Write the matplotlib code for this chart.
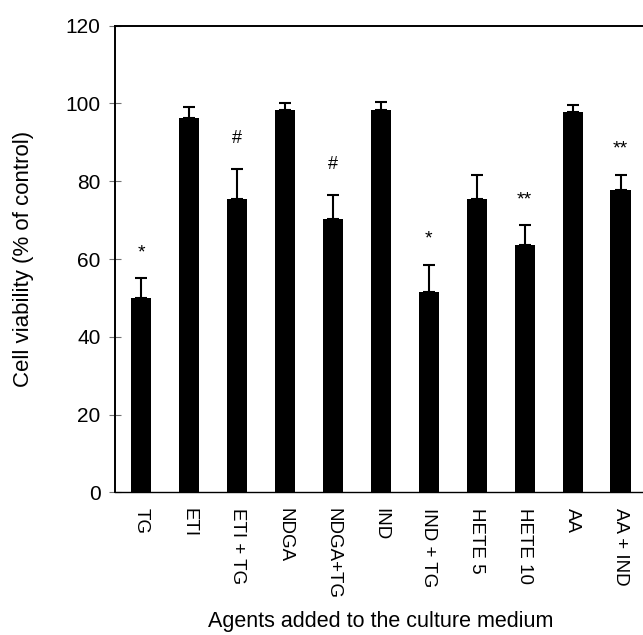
import numpy as np
import matplotlib
matplotlib.use('Agg')
import matplotlib.pyplot as plt

plt.rcParams['font.family'] = ['Liberation Sans', 'DejaVu Sans']

# data
agents = ['TG', 'ETI', 'ETI + TG', 'NDGA', 'NDGA+TG', 'IND', 'IND + TG',
          'HETE 5', 'HETE 10', 'AA', 'AA + IND']
viability = [50.1, 96.2, 75.4, 98.4, 70.4, 98.4, 51.6, 75.5, 63.6, 97.8, 77.8]
sem = [4.9, 3.0, 7.8, 1.8, 6.0, 2.1, 6.9, 6.0, 5.1, 1.8, 3.8]
marks = ['*', '', '#', '', '#', '', '*', '', '**', '', '**']

fig = plt.figure(figsize=(6.43, 6.35), dpi=100)
ax = fig.add_axes([0.1788, 0.2247, 0.8274, 0.7348])

x = np.arange(len(agents))
ax.bar(x, viability, width=0.424, color='black', zorder=2)
ax.errorbar(x, viability, yerr=[np.zeros(len(sem)), sem], fmt='none',
            ecolor='black', elinewidth=1.5, capsize=4, capthick=1.5, zorder=1)

# significance marks above the error bars
for i in range(len(agents)):
    if marks[i] == '#':
        ax.text(x[i], viability[i] + sem[i] + 7.8, marks[i], ha='center',
                va='center', fontsize=13)
    elif marks[i]:
        ax.text(x[i], viability[i] + sem[i] + 6.6, marks[i], ha='center',
                va='center', fontsize=14)

ax.set_xlim(-0.55, len(agents) - 0.45)
ax.set_ylim(0, 120)
ax.set_yticks(np.arange(0, 121, 20))
ax.set_xticks(x)
ax.set_xticklabels(agents, rotation=270, fontsize=13.5)
ax.tick_params(axis='x', length=0, pad=11)
ax.tick_params(axis='y', direction='inout', length=9, width=0.8,
               color='0.45', labelsize=15, pad=6)

ax.spines['right'].set_visible(False)
for s in ['left', 'top']:
    ax.spines[s].set_linewidth(1.4)
ax.spines['bottom'].set_linewidth(1.0)

ax.set_ylabel('Cell viability (% of control)', fontsize=16)
ax.yaxis.set_label_coords(-0.152, 0.5)
ax.set_xlabel('Agents added to the culture medium', fontsize=15.5)
ax.xaxis.set_label_coords(0.5, -0.255)

fig.savefig('out.png', dpi=100)
